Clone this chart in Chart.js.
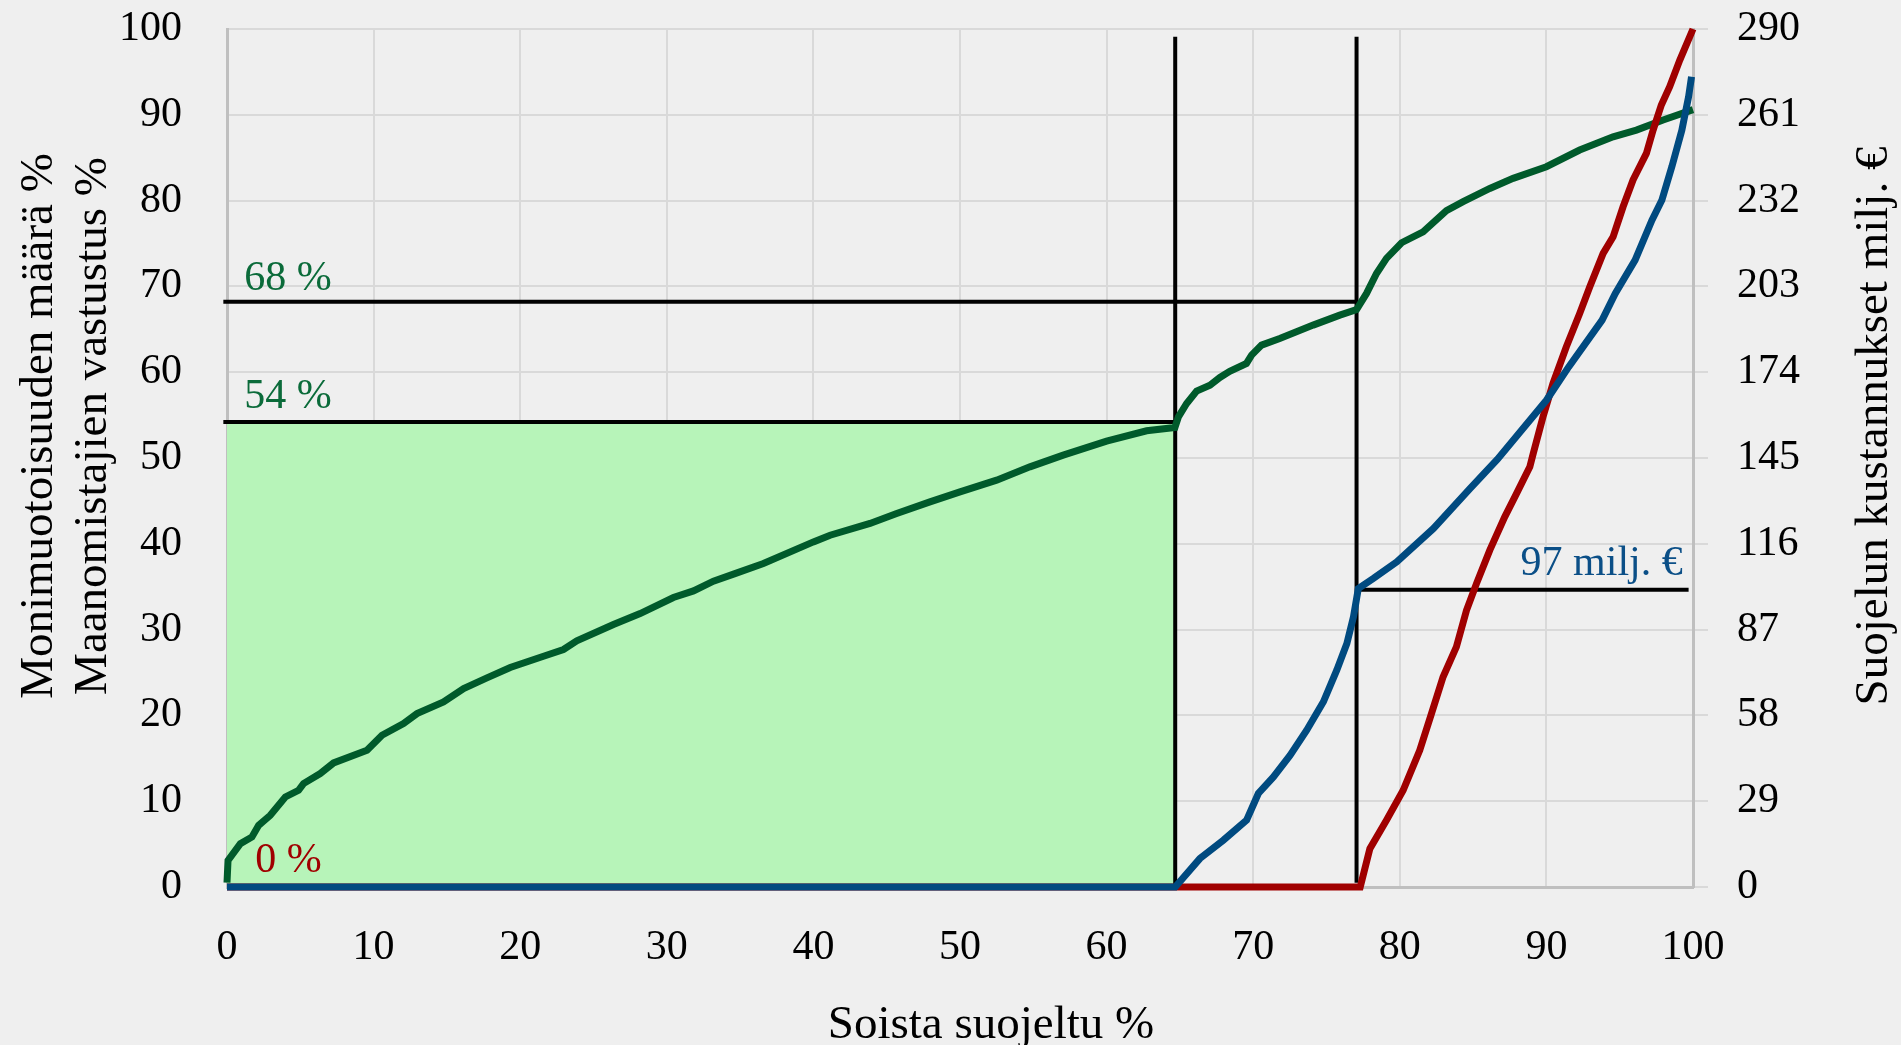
<!DOCTYPE html>
<html>
<head>
<meta charset="utf-8">
<script src="https://cdn.jsdelivr.net/npm/chart.js@4.4.1/dist/chart.umd.min.js"></script>
<style>
  html, body { margin: 0; padding: 0; background: #efefef; }
  #wrap { width: 1901px; height: 1045px; }
</style>
</head>
<body>
<div id="wrap"><canvas id="myChart" width="1901" height="1045"></canvas></div>
<script>
// ===== data =====
// green: monimuotoisuuden määrä %
const greenX = [0, 0.07, 0.91, 1.7, 2.16, 2.95, 3.98, 4.88, 5.22, 6.36, 7.27, 9.55, 10.57, 12.04, 12.96, 14.77, 16.14, 17.73, 19.32, 21.59, 22.95, 23.86, 26.36, 28.18, 30.45, 31.82, 33.18, 34.6, 36.59, 40, 41.14, 43.86, 45.68, 47.95, 50, 52.5, 54.77, 57.04, 60, 62.73, 64.66, 64.9, 65.46, 66.14, 67.05, 67.73, 68.4, 69.54, 69.89, 70.57, 71.81, 74.09, 75.91, 77.05, 77.73, 78.41, 79.09, 80.12, 81.59, 83.18, 84.32, 86.14, 87.73, 90, 92.27, 94.55, 96.14, 97.96, 100];
const greenY = [0.5, 3.1, 5.06, 5.83, 7.19, 8.36, 10.49, 11.27, 12.05, 13.22, 14.46, 15.94, 17.69, 19.05, 20.21, 21.57, 23.13, 24.37, 25.58, 26.9, 27.68, 28.68, 30.59, 31.87, 33.74, 34.51, 35.64, 36.5, 37.7, 40.22, 41.0, 42.37, 43.53, 44.89, 46.05, 47.42, 48.97, 50.33, 51.97, 53.17, 53.56, 54.8, 56.36, 57.8, 58.49, 59.39, 60.1, 61.02, 61.99, 63.16, 63.93, 65.49, 66.65, 67.31, 69.18, 71.51, 73.26, 75.09, 76.37, 78.82, 79.87, 81.42, 82.59, 83.95, 85.89, 87.44, 88.22, 89.39, 90.6];

// red: maanomistajien vastustus %
const redX = [0, 77.05, 77.3, 77.96, 79.09, 80.23, 81.36, 82.16, 82.95, 83.86, 84.55, 85.23, 86.14, 87.16, 87.96, 88.87, 89.1, 89.77, 90.45, 91.36, 92.27, 92.96, 93.87, 94.55, 95.23, 95.91, 96.82, 97.28, 97.84, 98.41, 99.1, 99.78, 100];
const redY = [0, 0, 0, 4.47, 7.78, 11.27, 15.94, 20.21, 24.48, 27.98, 32.26, 35.36, 39.26, 43.14, 45.85, 48.97, 50.5, 54.8, 58.69, 62.96, 66.85, 69.96, 73.85, 75.78, 79.28, 82.4, 85.5, 88.22, 91.14, 93.27, 96.38, 99.1, 100];

// blue: suojelun kustannukset milj. €
const blueX = [0, 64.68, 66.36, 67.96, 69.55, 70.35, 71.38, 72.51, 73.65, 74.79, 75.7, 76.39, 76.84, 77.17, 78.2, 79.8, 82.3, 84.8, 86.65, 90, 91.52, 93.8, 94.7, 96.05, 97.2, 97.88, 98.56, 99.24, 99.7, 99.9];
const blueY = [0, 0, 9.6, 15.8, 22.6, 31.6, 37.2, 44.5, 53, 62.6, 73.3, 82.3, 91.3, 100.9, 104.3, 109.9, 121.2, 134.7, 144.5, 164.5, 175.8, 191.6, 200.6, 211.9, 225.4, 232.2, 243.5, 255.8, 267.1, 273.9];

// reference lines
const cutA = 64.68;    // 54 %
const cutB = 77.05;    // 68 %
const level54 = 54.2;
const level68 = 68.2;
const cost97 = 100.5;  // right axis value of the 97 milj. € line

const xTicks = { min: 0, max: 100, step: 10 };
const yTicks = { min: 0, max: 100, step: 10 };
const y2Ticks = { min: 0, max: 290, step: 29 };

const toPoints = (xs, ys) => xs.map((x, i) => ({ x: x, y: ys[i] }));

// ===== styles =====
const FONT = "'Liberation Serif', 'Times New Roman', serif";
const GREEN = "#005a2b";
const RED = "#a00000";
const BLUE = "#004a80";
const GRID = "#d9d9d9";
const AXIS = "#bfbfbf";

// background
const bgPlugin = {
  id: "bg",
  beforeDraw(chart) {
    const ctx = chart.ctx;
    ctx.save();
    ctx.fillStyle = "#efefef";
    ctx.fillRect(0, 0, chart.width, chart.height);
    ctx.restore();
  },
};

// labels inside the plot, positioned via scales
const notes = [
  { text: "68 %", x: 1.18, y: 69.57, axis: "y", color: "#0b6b3a", align: "left" },
  { text: "54 %", x: 1.18, y: 55.8, axis: "y", color: "#0b6b3a", align: "left" },
  { text: "0 %", x: 1.93, y: 1.75, axis: "y", color: RED, align: "left" },
  { text: "97 milj. €", x: 99.3, y: 105.4, axis: "y2", color: "#0b4f87", align: "right" },
];

const notesPlugin = {
  id: "notes",
  afterDatasetsDraw(chart) {
    const ctx = chart.ctx;
    const xs = chart.scales.x;
    ctx.save();
    ctx.font = "42px " + FONT;
    ctx.textBaseline = "alphabetic";
    notes.forEach((n) => {
      ctx.fillStyle = n.color;
      ctx.textAlign = n.align;
      ctx.fillText(n.text, xs.getPixelForValue(n.x), chart.scales[n.axis].getPixelForValue(n.y));
    });
    ctx.restore();
  },
};

// axis titles (right one reads bottom to top like the left one)
const titlesPlugin = {
  id: "titles",
  afterDraw(chart) {
    const ctx = chart.ctx;
    const area = chart.chartArea;
    const midY = area.top + (area.bottom - area.top) / 2 - 32;
    ctx.save();
    ctx.fillStyle = "#000";
    ctx.font = "47px " + FONT;
    ctx.textAlign = "center";
    ctx.textBaseline = "alphabetic";

    const vText = (txt, x) => {
      ctx.save();
      ctx.translate(x, midY);
      ctx.rotate(-Math.PI / 2);
      ctx.fillText(txt, 0, 0);
      ctx.restore();
    };
    vText("Monimuotoisuuden määrä %", 52);
    vText("Maanomistajien vastustus %", 106);
    vText("Suojelun kustannukset milj. €", 1887);

    ctx.fillText("Soista suojeltu %", area.left + (area.right - area.left) / 2 + 31, 1038);
    ctx.restore();
  },
};

const lineDs = (label, data, color, width, order, axis) => ({
  label: label,
  data: data,
  borderColor: color,
  borderWidth: width,
  pointRadius: 0,
  tension: 0,
  fill: false,
  order: order,
  yAxisID: axis || "y",
  clip: false,
});

// fixed axis boxes so the plot area sits where it does in the picture
const fitY = (w) => (s) => {
  s.width = w;
  s.paddingTop = 0;
  s.paddingBottom = 0;
};

const ctx = document.getElementById("myChart").getContext("2d");
const myChart = new Chart(ctx, {
  type: "line",
  data: {
    datasets: [
      {
        label: "fill",
        data: [{ x: -0.25, y: level54 }, { x: cutA, y: level54 }],
        borderWidth: 0,
        pointRadius: 0,
        backgroundColor: "#b7f4b9",
        fill: "origin",
        order: 20,
        clip: false,
      },
      lineDs("h54", [{ x: -0.25, y: level54 }, { x: cutA, y: level54 }], "#000", 4, 10),
      lineDs("h68", [{ x: -0.25, y: level68 }, { x: cutB, y: level68 }], "#000", 4, 10),
      lineDs("vA", [{ x: cutA, y: 0 }, { x: cutA, y: 99.1 }], "#000", 4, 10),
      lineDs("vB", [{ x: cutB, y: 0.5 }, { x: cutB, y: 99.1 }], "#000", 4, 10),
      lineDs("h97", [{ x: cutB, y: cost97 }, { x: 99.7, y: cost97 }], "#000", 4, 10, "y2"),
      lineDs("Monimuotoisuus", toPoints(greenX, greenY), GREEN, 7, 3),
      lineDs("Vastustus", toPoints(redX, redY), RED, 7, 2),
      lineDs("Kustannukset", toPoints(blueX, blueY), BLUE, 7, 1, "y2"),
    ],
  },
  options: {
    responsive: false,
    animation: false,
    layout: { padding: { top: 29, left: 0, right: 0, bottom: 0 } },
    plugins: {
      legend: { display: false },
      tooltip: { enabled: false },
    },
    scales: {
      x: {
        type: "linear",
        min: xTicks.min,
        max: xTicks.max,
        afterFit: (s) => { s.height = 158; },
        ticks: { stepSize: xTicks.step, color: "#000", font: { family: FONT, size: 42 }, padding: 36, maxRotation: 0 },
        grid: { color: GRID, lineWidth: 2, drawTicks: false },
        border: { color: AXIS, width: 3 },
      },
      y: {
        position: "left",
        min: yTicks.min,
        max: yTicks.max,
        afterFit: fitY(227),
        ticks: { stepSize: yTicks.step, color: "#000", font: { family: FONT, size: 42 }, padding: 45 },
        grid: { color: GRID, lineWidth: 2, drawTicks: false },
        border: { color: AXIS, width: 3 },
      },
      y2: {
        position: "right",
        min: y2Ticks.min,
        max: y2Ticks.max,
        afterFit: fitY(208),
        ticks: { stepSize: y2Ticks.step, color: "#000", font: { family: FONT, size: 42 }, padding: 29 },
        grid: { drawOnChartArea: false, color: GRID, lineWidth: 2, drawTicks: true, tickLength: 15 },
        border: { color: AXIS, width: 3 },
      },
    },
  },
  plugins: [bgPlugin, notesPlugin, titlesPlugin],
});
</script>
</body>
</html>
